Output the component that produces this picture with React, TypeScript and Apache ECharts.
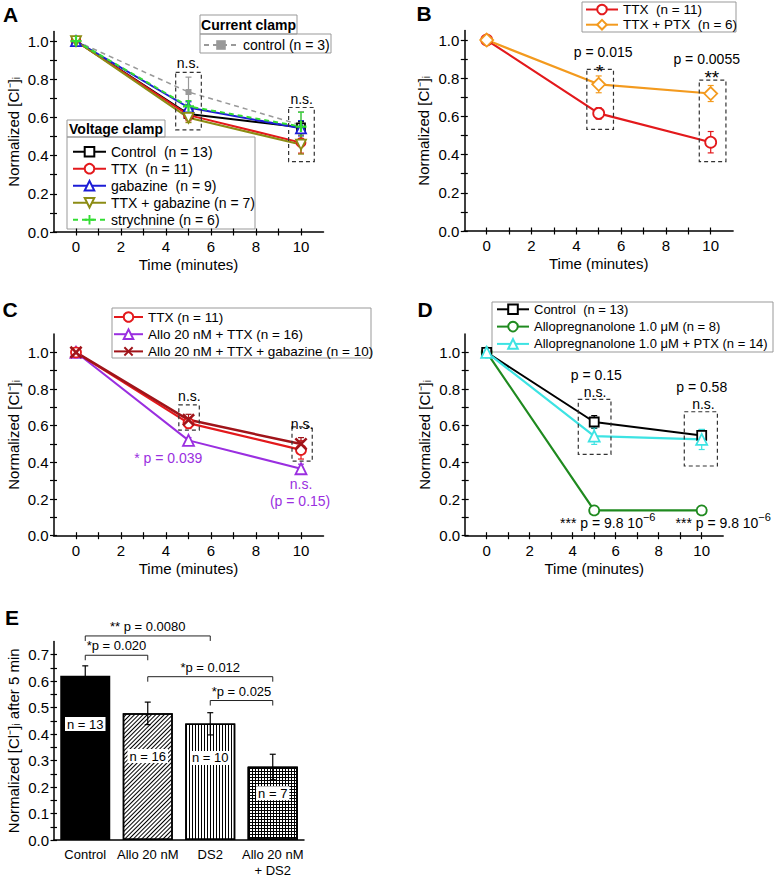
import React, { useEffect, useRef } from 'react';
import * as echarts from 'echarts';

const FONT = '"Liberation Sans", Arial, Helvetica, sans-serif';

// shared axes
const times = [0, 5, 10];
const xLabelValues = [0, 2, 4, 6, 8, 10];
const xTickValues = [0, 1, 2, 3, 4, 5, 6, 7, 8, 9, 10];
const yLabelValues = [0, 0.2, 0.4, 0.6, 0.8, 1.0];
const yTickValues = [0, 0.1, 0.2, 0.3, 0.4, 0.5, 0.6, 0.7, 0.8, 0.9, 1.0];
const yMaxLine = [1.05, 1.05, 1.1, 1.1];

// Panel A
const aNames = ['Control  (n = 13)', 'TTX  (n = 11)', 'gabazine  (n = 9)', 'TTX + gabazine (n = 7)', 'strychnine (n = 6)'];
const aCurrentName = 'control (n = 3)';
const aControl = [1, 0.618, 0.548];
const aControlErr = [0, 0.03, 0.03];
const aTTX = [1, 0.612, 0.468];
const aTTXErr = [0, 0.03, 0.055];
const aGabazine = [1, 0.652, 0.543];
const aGabazineErr = [0, 0.03, 0.04];
const aTTXGab = [1, 0.598, 0.458];
const aTTXGabErr = [0, 0.025, 0.05];
const aStrychnine = [1, 0.658, 0.552];
const aStrychnineErr = [0, 0.03, 0.075];
const aCurrent = [1, 0.733, 0.56];
const aCurrentErr = [0, 0.078, 0.07];
const annA = [
  { x: 4.98, y: 0.886, text: 'n.s.' },
  { x: 10.03, y: 0.698, text: 'n.s.' },
];
const boxA = [
  [4.43, 0.535, 5.57, 0.836],
  [9.45, 0.369, 10.59, 0.652],
];

// Panel B
const bNames = ['TTX  (n = 11)', 'TTX + PTX  (n = 6)'];
const bTTX = [1, 0.616, 0.465];
const bTTXErr = [0, 0.03, 0.056];
const bPTX = [1, 0.768, 0.72];
const bPTXErr = [0, 0.044, 0.042];
const annB = [
  { x: 5.2, y: 0.935, text: 'p = 0.015', size: 14 },
  { x: 5.05, y: 0.835, text: '*', size: 19 },
  { x: 9.82, y: 0.899, text: 'p = 0.0055', size: 14 },
  { x: 10.05, y: 0.805, text: '**', size: 19 },
];
const boxB = [
  [4.47, 0.532, 5.66, 0.846],
  [9.49, 0.363, 10.68, 0.79],
];

// Panel C
const cNames = ['TTX (n = 11)', 'Allo 20 nM + TTX (n = 16)', 'Allo 20 nM + TTX + gabazine (n = 10)'];
const cTTX = [1, 0.614, 0.468];
const cTTXErr = [0, 0.03, 0.05];
const cAllo = [1, 0.52, 0.365];
const cAlloErr = [0, 0.015, 0.025];
const cAlloGab = [1, 0.632, 0.5];
const cAlloGabErr = [0, 0.03, 0.035];
const annC = [
  { x: 5.04, y: 0.76, text: 'n.s.', color: '#000' },
  { x: 10.05, y: 0.609, text: 'n.s.', color: '#000' },
  { x: 4.1, y: 0.425, text: '* p = 0.039', color: '#9a2fe0' },
  { x: 10.0, y: 0.28, text: 'n.s.', color: '#9a2fe0' },
  { x: 9.96, y: 0.19, text: '(p = 0.15)', color: '#9a2fe0' },
];
const boxC = [
  [4.57, 0.576, 5.48, 0.713],
  [9.6, 0.407, 10.5, 0.593],
];

// Panel D
const dNames = ['Control  (n = 13)', 'Allopregnanolone 1.0 \u03bcM (n = 8)', 'Allopregnanolone 1.0 \u03bcM + PTX (n = 14)'];
const dControl = [1, 0.62, 0.547];
const dControlErr = [0, 0.035, 0.03];
const dAllo = [1, 0.138, 0.138];
const dAlloErr = [0, 0.01, 0.01];
const dAlloPTX = [1, 0.543, 0.525];
const dAlloPTXErr = [0, 0.045, 0.055];
const annD = [
  { x: 5.1, y: 0.877, text: 'p = 0.15' },
  { x: 5.04, y: 0.785, text: 'n.s.' },
  { x: 10.0, y: 0.81, text: 'p = 0.58' },
  { x: 10.08, y: 0.718, text: 'n.s.' },
  { x: 5.63, y: 0.071, text: '*** p = 9.8 10{s|\u22126}', rich: true },
  { x: 11.0, y: 0.071, text: '*** p = 9.8 10{s|\u22126}', rich: true },
];
const boxD = [
  [4.26, 0.444, 5.78, 0.744],
  [9.19, 0.38, 10.73, 0.676],
];

// Panel E
const eCategories = ['Control', 'Allo 20 nM', 'DS2', 'Allo 20 nM\n+ DS2'];
const eValues = [0.621, 0.479, 0.44, 0.277];
const eErrLow = [0.585, 0.436, 0.397, 0.228];
const eErrHigh = [0.658, 0.521, 0.481, 0.324];
const eNText = ['n = 13', 'n = 16', 'n = 10', 'n = 7'];
const eNY = [0.438, 0.317, 0.31, 0.177];
const eYLabelValues = [0, 0.1, 0.2, 0.3, 0.4, 0.5, 0.6, 0.7];
const eYTickValues = [0, 0.05, 0.1, 0.15, 0.2, 0.25, 0.3, 0.35, 0.4, 0.45, 0.5, 0.55, 0.6, 0.65, 0.7];
const eBracketFrom = [0, 0, 1, 2];
const eBracketTo = [2, 1, 3, 3];
const eBracketY = [0.771, 0.698, 0.617, 0.527];
const eBracketText = ['** p = 0.0080', '*p = 0.020', '*p = 0.012', '*p = 0.025'];

// colours
const RED = '#e3191c';
const BLUE = '#1c1cd6';
const OLIVE = '#8c8c14';
const LGREEN = '#33dd33';
const GRAY = '#999999';
const ORANGE = '#f39a1e';
const PURPLE = '#9a2fe0';
const DRED = '#a0141a';
const DGREEN = '#1f8a1f';
const CYAN = '#3de3e3';

const DOWN_TRI = 'path://M0,0L10,0L5,9Z';
const PLUS = 'path://M4,0L6,0L6,4L10,4L10,6L6,6L6,10L4,10L4,6L0,6L0,4L4,4Z';
const CROSS = 'path://M1.4,0L5,3.6L8.6,0L10,1.4L6.4,5L10,8.6L8.6,10L5,6.4L1.4,10L0,8.6L3.6,5L0,1.4Z';

function mkLine(name: string, g: number, vals: number[], color: string, symbol: string, size: number, opt: any = {}) {
  return {
    type: 'line',
    name,
    xAxisIndex: 2 * g,
    yAxisIndex: 2 * g,
    data: times.map((t, i) => [t, vals[i]]),
    symbol,
    symbolSize: size,
    lineStyle: { color, width: opt.width ?? 2, type: opt.dashed ? [5, 4] : 'solid' },
    itemStyle: opt.filled
      ? { color, borderWidth: 0 }
      : { color: '#fff', borderColor: color, borderWidth: opt.bw ?? 1.8 },
    emphasis: { disabled: true },
    z: opt.z ?? 3,
    silent: true,
  };
}

function errGroup(api: any, color: string) {
  const x = api.value(0);
  const a = api.coord([x, api.value(1)]);
  const b = api.coord([x, api.value(2)]);
  const st = { stroke: color, lineWidth: 1.2 };
  const c = 3;
  return {
    type: 'group',
    children: [
      { type: 'line', shape: { x1: a[0], y1: a[1], x2: b[0], y2: b[1] }, style: st },
      { type: 'line', shape: { x1: a[0] - c, y1: a[1], x2: a[0] + c, y2: a[1] }, style: st },
      { type: 'line', shape: { x1: b[0] - c, y1: b[1], x2: b[0] + c, y2: b[1] }, style: st },
    ],
  };
}

function mkErr(g: number, vals: number[], errs: number[], color: string) {
  const data: number[][] = [];
  times.forEach((t, i) => {
    if (errs[i] > 0) data.push([t, vals[i] - errs[i], vals[i] + errs[i]]);
  });
  return {
    type: 'custom',
    xAxisIndex: 2 * g,
    yAxisIndex: 2 * g,
    data,
    silent: true,
    z: 2,
    renderItem: (params: any, api: any) => errGroup(api, color),
  };
}

function mkBoxes(g: number, boxes: number[][]) {
  return {
    type: 'custom',
    xAxisIndex: 2 * g,
    yAxisIndex: 2 * g,
    data: boxes,
    silent: true,
    z: 4,
    renderItem: (params: any, api: any) => {
      const p0 = api.coord([api.value(0), api.value(1)]);
      const p1 = api.coord([api.value(2), api.value(3)]);
      return {
        type: 'rect',
        shape: {
          x: Math.min(p0[0], p1[0]),
          y: Math.min(p0[1], p1[1]),
          width: Math.abs(p1[0] - p0[0]),
          height: Math.abs(p1[1] - p0[1]),
        },
        style: { fill: 'none', stroke: '#333', lineWidth: 1.2, lineDash: [4, 3] },
      };
    },
  };
}

function mkTexts(g: number, items: any[], defSize = 14) {
  return {
    type: 'custom',
    xAxisIndex: 2 * g,
    yAxisIndex: 2 * g,
    data: items.map((a) => [a.x, a.y]),
    silent: true,
    z: 5,
    renderItem: (params: any, api: any) => {
      const a = items[params.dataIndex];
      const p = api.coord([api.value(0), api.value(1)]);
      const style: any = {
        text: a.text,
        fill: a.color || '#000',
        font: `${a.size || defSize}px ${FONT}`,
        align: 'center',
        verticalAlign: 'middle',
        textAlign: 'center',
        textVerticalAlign: 'middle',
      };
      if (a.rich) {
        style.fontSize = a.size || defSize;
        style.fontFamily = FONT;
        style.lineHeight = 22;
        style.rich = { s: { fontSize: 11, fontFamily: FONT, verticalAlign: 'top', lineHeight: 11, fill: a.color || '#000' } };
      }
      return { type: 'text', x: p[0], y: p[1], style };
    },
  };
}

function buildOption() {
  const lineGrids = [
    { left: 53.5, top: 31.5, width: 270, height: 200.5 },
    { left: 464.3, top: 30.5, width: 268.8, height: 200.5 },
    { left: 53.5, top: 334, width: 270, height: 201.7 },
    { left: 465.2, top: 334, width: 258, height: 201.7 },
  ];
  const barGrid = { left: 54, top: 641.5, width: 250, height: 202.2 };
  const axisLine = { show: true, onZero: false, lineStyle: { color: '#000', width: 1.5 } };
  const hiddenLine = { show: false, onZero: false };
  const tickStyle = { color: '#000', width: 1.2 };
  const labelStyle = { color: '#000', fontSize: 15, fontFamily: FONT };
  const nameStyle = { color: '#000', fontSize: 15, fontFamily: FONT };
  const yName = 'Normalized [Cl\u207b]\u1d62';

  const xAxis: any[] = [];
  const yAxis: any[] = [];
  for (let g = 0; g < 4; g++) {
    xAxis.push({
      type: 'value', gridIndex: g, min: -1, max: 11, position: 'bottom',
      axisLine,
      axisTick: { show: true, customValues: xTickValues, length: 3.5, lineStyle: tickStyle },
      axisLabel: { ...labelStyle, customValues: xLabelValues, margin: 7 },
      splitLine: { show: false },
      name: 'Time (minutes)', nameLocation: 'middle', nameGap: 25, nameTextStyle: nameStyle,
    });
    xAxis.push({
      type: 'value', gridIndex: g, min: -1, max: 11, position: 'bottom',
      axisLine: hiddenLine,
      axisTick: { show: true, inside: true, customValues: xTickValues, length: 3.5, lineStyle: tickStyle },
      axisLabel: { show: false },
      splitLine: { show: false },
    });
    yAxis.push({
      type: 'value', gridIndex: g, min: 0, max: yMaxLine[g], position: 'left',
      axisLine,
      axisTick: { show: true, customValues: yTickValues, length: 3.5, lineStyle: tickStyle },
      axisLabel: { ...labelStyle, customValues: yLabelValues, margin: 5, formatter: (v: number) => v.toFixed(1) },
      splitLine: { show: false },
      name: yName, nameLocation: 'middle', nameGap: 33, nameTextStyle: nameStyle,
    });
    yAxis.push({
      type: 'value', gridIndex: g, min: 0, max: yMaxLine[g], position: 'left',
      axisLine: hiddenLine,
      axisTick: { show: true, inside: true, customValues: yTickValues, length: 3.5, lineStyle: tickStyle },
      axisLabel: { show: false },
      splitLine: { show: false },
    });
  }
  // E axes
  xAxis.push({
    type: 'category', gridIndex: 4, data: eCategories, position: 'bottom',
    axisLine, axisTick: { show: false },
    axisLabel: { color: '#000', fontSize: 13, fontFamily: FONT, interval: 0, margin: 6, lineHeight: 16 },
  });
  yAxis.push({
    type: 'value', gridIndex: 4, min: 0, max: 0.75, position: 'left',
    axisLine,
    axisTick: { show: true, customValues: eYTickValues, length: 3.5, lineStyle: tickStyle },
    axisLabel: { ...labelStyle, customValues: eYLabelValues, margin: 5, formatter: (v: number) => v.toFixed(1) },
    splitLine: { show: false },
    name: yName + ' after 5 min', nameLocation: 'middle', nameGap: 33, nameTextStyle: nameStyle,
  });
  yAxis.push({
    type: 'value', gridIndex: 4, min: 0, max: 0.75, position: 'left',
    axisLine: hiddenLine,
    axisTick: { show: true, inside: true, customValues: eYTickValues, length: 3, lineStyle: tickStyle },
    axisLabel: { show: false },
    splitLine: { show: false },
  });

  const series: any[] = [];
  // A
  series.push(mkErr(0, aCurrent, aCurrentErr, GRAY));
  series.push(mkLine(aCurrentName, 0, aCurrent, GRAY, 'rect', 6, { filled: true, dashed: true, width: 1.5, z: 2 }));
  series.push(mkErr(0, aControl, aControlErr, '#000'));
  series.push(mkErr(0, aTTX, aTTXErr, RED));
  series.push(mkErr(0, aGabazine, aGabazineErr, BLUE));
  series.push(mkErr(0, aTTXGab, aTTXGabErr, OLIVE));
  series.push(mkErr(0, aStrychnine, aStrychnineErr, LGREEN));
  series.push(mkLine(aNames[0], 0, aControl, '#000', 'rect', 8));
  series.push(mkLine(aNames[1], 0, aTTX, RED, 'circle', 9));
  series.push(mkLine(aNames[2], 0, aGabazine, BLUE, 'triangle', 10));
  series.push(mkLine(aNames[3], 0, aTTXGab, OLIVE, DOWN_TRI, 10));
  series.push(mkLine(aNames[4], 0, aStrychnine, LGREEN, PLUS, 11, { filled: true, dashed: true }));
  series.push(mkBoxes(0, boxA));
  series.push(mkTexts(0, annA));
  // B
  series.push(mkErr(1, bTTX, bTTXErr, RED));
  series.push(mkErr(1, bPTX, bPTXErr, ORANGE));
  series.push(mkLine(bNames[0], 1, bTTX, RED, 'circle', 11, { width: 2.2 }));
  series.push(mkLine(bNames[1], 1, bPTX, ORANGE, 'diamond', 13, { width: 2.2 }));
  series.push(mkBoxes(1, boxB));
  series.push(mkTexts(1, annB));
  // C
  series.push(mkErr(2, cTTX, cTTXErr, RED));
  series.push(mkErr(2, cAllo, cAlloErr, PURPLE));
  series.push(mkErr(2, cAlloGab, cAlloGabErr, DRED));
  series.push(mkLine(cNames[1], 2, cAllo, PURPLE, 'triangle', 11, { width: 2 }));
  series.push(mkLine(cNames[0], 2, cTTX, RED, 'circle', 10, { width: 2.2 }));
  series.push(mkLine(cNames[2], 2, cAlloGab, DRED, CROSS, 13, { filled: true, width: 2.5 }));
  series.push(mkBoxes(2, boxC));
  series.push(mkTexts(2, annC));
  // D
  series.push(mkErr(3, dControl, dControlErr, '#000'));
  series.push(mkErr(3, dAllo, dAlloErr, DGREEN));
  series.push(mkErr(3, dAlloPTX, dAlloPTXErr, CYAN));
  series.push(mkLine(dNames[1], 3, dAllo, DGREEN, 'circle', 10, { width: 2.2 }));
  series.push(mkLine(dNames[0], 3, dControl, '#000', 'rect', 9, { width: 2 }));
  series.push(mkLine(dNames[2], 3, dAlloPTX, CYAN, 'triangle', 11, { width: 2.2 }));
  series.push(mkBoxes(3, boxD));
  series.push(mkTexts(3, annD));

  // E bars: solid, diagonal hatch, vertical hatch, grid (vertical + horizontal overlay)
  const diag = { symbol: 'rect', symbolSize: 1, dashArrayX: [1, 0], dashArrayY: [1, 2], rotation: -Math.PI / 4, color: '#000' };
  const vert = { symbol: 'rect', symbolSize: 1, dashArrayX: [1, 2], dashArrayY: [1, 0], rotation: 0, color: '#000' };
  const horiz = { symbol: 'rect', symbolSize: 1, dashArrayX: [1, 0], dashArrayY: [1, 2], rotation: 0, color: '#000' };
  const barLayers: { idx: number; fill: string; decal: any }[] = [
    { idx: 0, fill: '#000', decal: null },
    { idx: 1, fill: '#fff', decal: diag },
    { idx: 2, fill: '#fff', decal: vert },
    { idx: 3, fill: '#fff', decal: vert },
    { idx: 3, fill: 'rgba(0,0,0,0)', decal: horiz },
  ];
  barLayers.forEach((L) => {
    const itemStyle: any = { color: L.fill, borderColor: '#000', borderWidth: 1.5 };
    if (L.decal) itemStyle.decal = L.decal;
    series.push({
      type: 'bar', xAxisIndex: 8, yAxisIndex: 8, barWidth: 50, barGap: '-100%',
      data: eValues.map((w, j) => (j === L.idx ? w : null)),
      itemStyle, silent: true, z: 2,
    });
  });
  series.push({
    type: 'custom', xAxisIndex: 8, yAxisIndex: 8, silent: true, z: 3,
    data: eValues.map((_, i) => [i, eErrLow[i], eErrHigh[i]]),
    renderItem: (params: any, api: any) => errGroup(api, '#000'),
  });
  series.push({
    type: 'custom', xAxisIndex: 8, yAxisIndex: 8, silent: true, z: 4,
    data: eNY.map((y, i) => [i, y]),
    renderItem: (params: any, api: any) => {
      const p = api.coord([api.value(0), api.value(1)]);
      return {
        type: 'text', x: p[0], y: p[1],
        style: {
          text: eNText[params.dataIndex], fill: '#000', font: `13px ${FONT}`,
          align: 'center', verticalAlign: 'middle', textAlign: 'center', textVerticalAlign: 'middle',
          backgroundColor: '#fff', padding: [1, 2, 0, 2],
        },
      };
    },
  });
  series.push({
    type: 'custom', xAxisIndex: 8, yAxisIndex: 8, silent: true, z: 4,
    data: eBracketY.map((y, i) => [eBracketFrom[i], eBracketTo[i], y]),
    renderItem: (params: any, api: any) => {
      const y = api.value(2);
      const a = api.coord([api.value(0), y]);
      const b = api.coord([api.value(1), y]);
      const st = { stroke: '#222', lineWidth: 1 };
      return {
        type: 'group',
        children: [
          { type: 'line', shape: { x1: a[0], y1: a[1], x2: b[0], y2: b[1] }, style: st },
          { type: 'line', shape: { x1: a[0], y1: a[1], x2: a[0], y2: a[1] + 5 }, style: st },
          { type: 'line', shape: { x1: b[0], y1: b[1], x2: b[0], y2: b[1] + 5 }, style: st },
          {
            type: 'text', x: (a[0] + b[0]) / 2, y: a[1] - 9.5,
            style: {
              text: eBracketText[params.dataIndex], fill: '#000', font: `13px ${FONT}`,
              align: 'center', verticalAlign: 'middle', textAlign: 'center', textVerticalAlign: 'middle',
            },
          },
        ],
      };
    },
  });

  const legText = (size: number) => ({ fontSize: size, color: '#000', fontFamily: FONT });
  const legendBase = { orient: 'vertical', padding: 0, selectedMode: false, itemHeight: 12 };
  const legend = [
    { ...legendBase, data: aNames, left: 72, top: 144.7, itemWidth: 33, itemGap: 3, textStyle: legText(14) },
    { ...legendBase, data: [aCurrentName], left: 203, top: 38, itemWidth: 34, itemGap: 3, textStyle: legText(14) },
    { ...legendBase, data: bNames, left: 585, top: 2.5, itemWidth: 32, itemGap: 1.2, textStyle: legText(13.5) },
    { ...legendBase, data: cNames, left: 113, top: 310, itemWidth: 29, itemGap: 3.2, textStyle: legText(13.5) },
    { ...legendBase, data: dNames, left: 496, top: 302.8, itemWidth: 32, itemGap: 4.3, textStyle: legText(13) },
  ];

  const boxStyle = { fill: 'none', stroke: '#999', lineWidth: 1 };
  const rect = (x: number, y: number, w: number, h: number) => ({ type: 'rect', shape: { x, y, width: w, height: h }, style: boxStyle, silent: true });
  const txt = (x: number, y: number, text: string, font: string) => ({
    type: 'text', x, y, silent: true,
    style: { text, font, fill: '#000', align: 'center', verticalAlign: 'middle', textAlign: 'center', textVerticalAlign: 'middle' },
  });
  const graphic = [
    rect(200, 15, 97, 19),
    rect(200, 34, 131, 19),
    txt(248.5, 24.5, 'Current clamp', `bold 14px ${FONT}`),
    rect(67, 120, 98, 17),
    rect(67, 137, 188, 92),
    txt(116, 128.5, 'Voltage clamp', `bold 14px ${FONT}`),
    rect(582, 2, 154, 30),
    rect(112, 308, 259, 50),
    rect(492, 302, 281, 50),
    txt(10.5, 14.5, 'A', `bold 21px ${FONT}`),
    txt(424, 13, 'B', `bold 21px ${FONT}`),
    txt(10, 309, 'C', `bold 21px ${FONT}`),
    txt(425, 309, 'D', `bold 21px ${FONT}`),
    txt(12, 617, 'E', `bold 21px ${FONT}`),
  ];

  return {
    animation: false,
    backgroundColor: '#fff',
    textStyle: { fontFamily: FONT },
    grid: [...lineGrids, barGrid],
    xAxis,
    yAxis,
    legend,
    graphic,
    series,
  };
}

export default function App() {
  const ref = useRef<HTMLDivElement>(null);
  useEffect(() => {
    document.body.style.margin = '0';
    const chart = echarts.init(ref.current as HTMLDivElement, null, { renderer: 'svg' });
    chart.setOption(buildOption() as any);
    return () => chart.dispose();
  }, []);
  return <div ref={ref} style={{ width: 775, height: 878 }} />;
}
